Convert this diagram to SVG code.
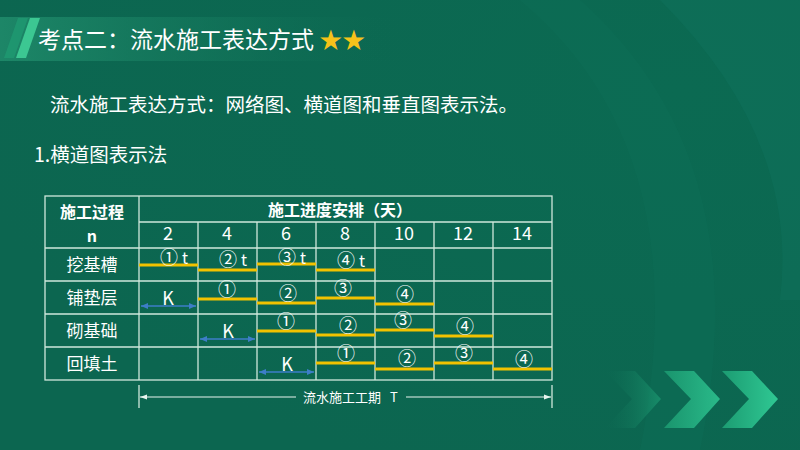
<svg xmlns="http://www.w3.org/2000/svg" width="800" height="450" viewBox="0 0 800 450">
<defs>
<linearGradient id="band" x1="0" y1="0" x2="1" y2="0">
<stop offset="0" stop-color="#1f8a6a" stop-opacity="0.9"/>
<stop offset="0.6" stop-color="#14775c" stop-opacity="0.5"/>
<stop offset="1" stop-color="#0d6a52" stop-opacity="0"/>
</linearGradient>
<linearGradient id="chev" x1="0" y1="0" x2="1" y2="0">
<stop offset="0" stop-color="#1c9c72"/>
<stop offset="1" stop-color="#2fc893"/>
</linearGradient>
<linearGradient id="chev1" x1="0" y1="0" x2="1" y2="0">
<stop offset="0" stop-color="#0f6e55" stop-opacity="0"/>
<stop offset="1" stop-color="#1c9a72"/>
</linearGradient>
<radialGradient id="bg" cx="0.85" cy="0.2" r="0.9">
<stop offset="0" stop-color="#0b6a52"/>
<stop offset="1" stop-color="#0c6650"/>
</radialGradient>
<marker id="arrB" markerWidth="8" markerHeight="8" refX="7" refY="4" orient="auto-start-reverse" markerUnits="userSpaceOnUse">
<path d="M0,1 L7,4 L0,7 z" fill="#3d7ec8"/>
</marker>
<marker id="arrW" markerWidth="8" markerHeight="8" refX="7" refY="4" orient="auto-start-reverse" markerUnits="userSpaceOnUse">
<path d="M0,1.5 L7,4 L0,6.5 z" fill="#e8f4ee"/>
</marker>
<style>
text{font-family:"Noto Sans CJK SC","Noto Sans",sans-serif;fill:#ffffff}
.grid{stroke:#cfe8dc;stroke-width:1.3;fill:none}
.bar{stroke:#f2c200;stroke-width:3}
.k{stroke:#3d7ec8;stroke-width:1.3;marker-start:url(#arrB);marker-end:url(#arrB)}
.c{font-size:18px;text-anchor:middle}
.c tspan{font-size:16px}
.n{font-size:18px;text-anchor:middle}
.r{font-size:17px;text-anchor:middle}
.h{font-size:16px;font-weight:bold;text-anchor:middle}
</style>
</defs>
<rect width="800" height="450" fill="url(#bg)"/>
<path d="M520,0 Q700,150 640,450 L700,450 Q760,160 580,0 z" fill="#0f7058" opacity="0.35"/>
<path d="M660,0 Q800,140 780,300 L800,300 L800,0 z" fill="#127560" opacity="0.35"/>
<g id="title">
<rect x="0" y="17" width="400" height="44" fill="url(#band)"/>
<polygon points="18,18 28,18 14,58 4,58" fill="#1f9a72" opacity="0.8"/>
<polygon points="30,18 40,18 26,58 16,58" fill="#3cc792"/>
<text x="38" y="48" font-size="23">考点二：流水施工表达方式 <tspan fill="#f6c21a">★★</tspan></text>
</g>
<g id="intro">
<text x="50" y="112" font-size="19.5">流水施工表达方式：网络图、横道图和垂直图表示法。</text>
<text x="34" y="162" font-size="19.5">1.横道图表示法</text>
</g>
<g id="table">
<rect class="grid" x="45" y="196" width="507" height="184"/>
<line class="grid" x1="139" y1="222" x2="552" y2="222"/>
<line class="grid" x1="45" y1="248" x2="552" y2="248"/>
<line class="grid" x1="45" y1="281" x2="552" y2="281"/>
<line class="grid" x1="45" y1="314" x2="552" y2="314"/>
<line class="grid" x1="45" y1="347" x2="552" y2="347"/>
<line class="grid" x1="139" y1="196" x2="139" y2="380"/>
<line class="grid" x1="198" y1="222" x2="198" y2="380"/>
<line class="grid" x1="257" y1="222" x2="257" y2="380"/>
<line class="grid" x1="316" y1="222" x2="316" y2="380"/>
<line class="grid" x1="375" y1="222" x2="375" y2="380"/>
<line class="grid" x1="434" y1="222" x2="434" y2="380"/>
<line class="grid" x1="493" y1="222" x2="493" y2="380"/>
<text class="h" x="92" y="218">施工过程</text>
<text class="h" x="92" y="242">n</text>
<text class="h" x="340" y="216">施工进度安排（天）</text>
<text class="n" x="168" y="240">2</text>
<text class="n" x="227" y="240">4</text>
<text class="n" x="286" y="240">6</text>
<text class="n" x="345" y="240">8</text>
<text class="n" x="404" y="240">10</text>
<text class="n" x="463" y="240">12</text>
<text class="n" x="522" y="240">14</text>
<text class="r" x="92" y="271">挖基槽</text>
<text class="r" x="92" y="304">铺垫层</text>
<text class="r" x="92" y="337">砌基础</text>
<text class="r" x="92" y="370">回填土</text>
</g>
<g id="bars">
<line class="bar" x1="139" y1="265" x2="198" y2="265"/>
<line class="bar" x1="198" y1="270" x2="257" y2="270"/>
<line class="bar" x1="257" y1="264" x2="316" y2="264"/>
<line class="bar" x1="316" y1="270" x2="375" y2="270"/>
<line class="bar" x1="198" y1="299" x2="257" y2="299"/>
<line class="bar" x1="257" y1="303" x2="316" y2="303"/>
<line class="bar" x1="316" y1="298" x2="375" y2="298"/>
<line class="bar" x1="375" y1="304" x2="434" y2="304"/>
<line class="bar" x1="257" y1="331" x2="316" y2="331"/>
<line class="bar" x1="316" y1="335" x2="375" y2="335"/>
<line class="bar" x1="375" y1="330" x2="434" y2="330"/>
<line class="bar" x1="434" y1="336" x2="493" y2="336"/>
<line class="bar" x1="316" y1="363" x2="375" y2="363"/>
<line class="bar" x1="375" y1="369" x2="434" y2="369"/>
<line class="bar" x1="434" y1="363" x2="493" y2="363"/>
<line class="bar" x1="493" y1="369" x2="552" y2="369"/>
<text class="c" x="174" y="263.5">① <tspan>t</tspan></text>
<text class="c" x="233" y="266">② <tspan>t</tspan></text>
<text class="c" x="292" y="263.5">③ <tspan>t</tspan></text>
<text class="c" x="351" y="267">④ <tspan>t</tspan></text>
<text class="c" x="227" y="296">①</text>
<text class="c" x="288" y="300">②</text>
<text class="c" x="343" y="295">③</text>
<text class="c" x="405" y="301">④</text>
<text class="c" x="286" y="328">①</text>
<text class="c" x="348" y="332">②</text>
<text class="c" x="403" y="327">③</text>
<text class="c" x="465" y="333">④</text>
<text class="c" x="346" y="360">①</text>
<text class="c" x="407" y="365">②</text>
<text class="c" x="464" y="360">③</text>
<text class="c" x="524" y="366">④</text>
</g>
<g id="connectors">
<text class="n" x="168" y="305">K</text>
<line class="k" x1="141" y1="306" x2="196" y2="306"/>
<text class="n" x="228" y="338">K</text>
<line class="k" x1="200" y1="339" x2="255" y2="339"/>
<text class="n" x="287" y="371">K</text>
<line class="k" x1="259" y1="372" x2="314" y2="372"/>
</g>
<g id="period">
<line class="grid" x1="139" y1="385" x2="139" y2="408"/>
<line class="grid" x1="552" y1="385" x2="552" y2="408"/>
<line x1="140" y1="397" x2="296" y2="397" stroke="#e8f4ee" stroke-width="1" marker-start="url(#arrW)"/>
<line x1="406" y1="397" x2="551" y2="397" stroke="#e8f4ee" stroke-width="1" marker-end="url(#arrW)"/>
<text x="303" y="402" font-size="13">流水施工工期</text>
<text x="394" y="402" font-size="13" text-anchor="middle">T</text>
</g>
<g id="chevrons">
<polygon points="605,371 635,371 661,399 635,428 605,428 632,399" fill="url(#chev1)" opacity="0.7"/>
<polygon points="664,371 694,371 720,399 694,428 664,428 691,399" fill="url(#chev)" opacity="0.85"/>
<polygon points="722,371 752,371 778,399 752,428 722,428 749,399" fill="url(#chev)"/>
</g>
</svg>
